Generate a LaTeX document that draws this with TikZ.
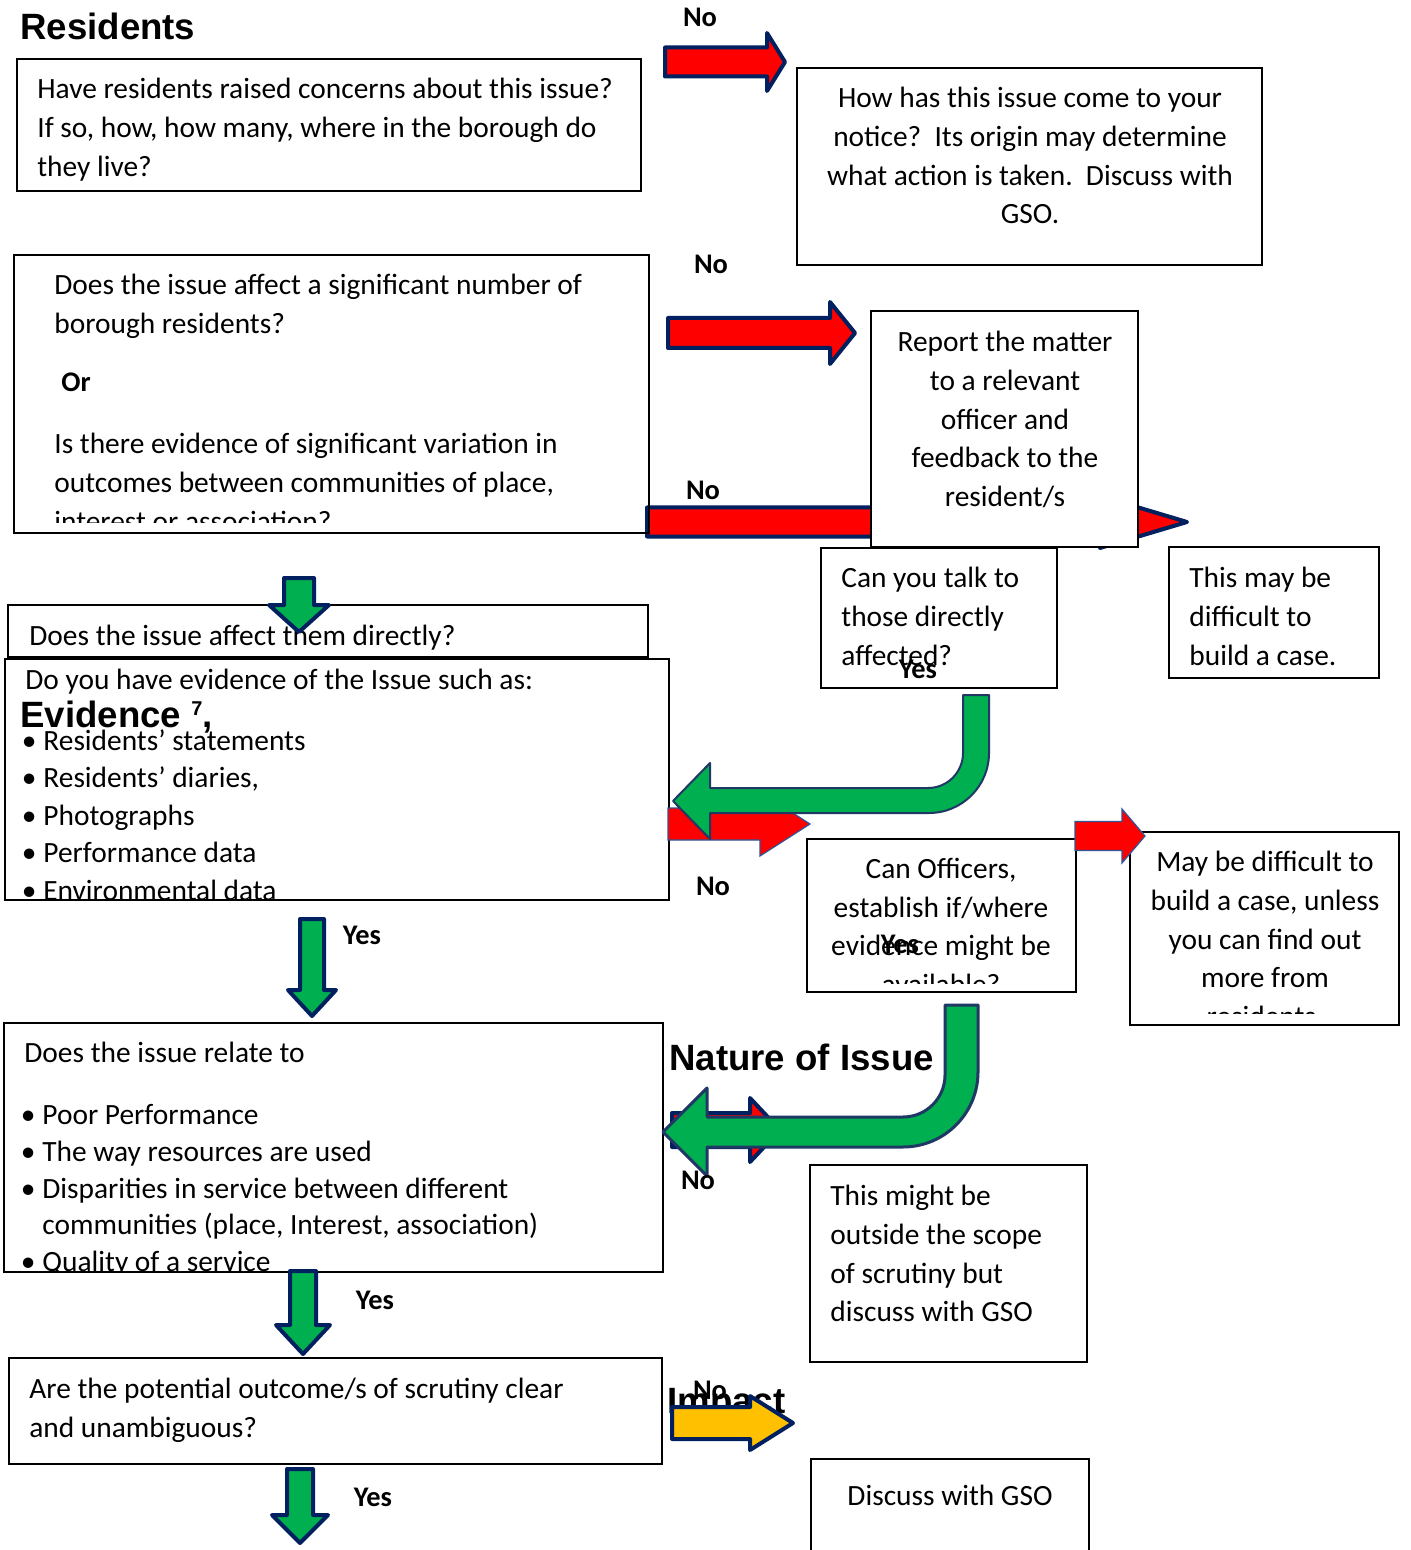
\documentclass[tikz,border=0pt]{standalone}
\usepackage{fontspec}
\setmainfont{Carlito}
\newfontfamily\hdfont{Liberation Sans}
\definecolor{arrred}{HTML}{FF0000}
\definecolor{navy}{HTML}{002060}
\definecolor{grn}{HTML}{00B050}
\definecolor{slate}{HTML}{1F3864}
\definecolor{thinblue}{HTML}{2F5597}
\definecolor{yel}{HTML}{FFC000}
\newcommand\RArrow[7]{% style, x1, x2, yc, shaft half, head base x, head half
  \draw[#1] (#2,#4-#5) -- (#6,#4-#5) -- (#6,#4-#7) -- (#3,#4) -- (#6,#4+#7) -- (#6,#4+#5) -- (#2,#4+#5) -- cycle;}
\newcommand\DArrow[7]{% style, xc, y1, y2, shaft half, head base y, head half
  \draw[#1] (#2-#5,#3) -- (#2+#5,#3) -- (#2+#5,#6) -- (#2+#7,#6) -- (#2,#4) -- (#2-#7,#6) -- (#2-#5,#6) -- cycle;}
\tikzset{
  boxst/.style={draw=black, line width=0.8pt},
  txt/.style={inner sep=0pt, anchor=north west, align=left, font=\fontsize{14.7}{19.3}\selectfont},
  ctxt/.style={inner sep=0pt, anchor=north, align=center, font=\fontsize{14.7}{19.3}\selectfont},
  lbl/.style={inner sep=0pt, anchor=base, font=\bfseries\fontsize{14.2}{15}\selectfont},
  hd/.style={inner sep=0pt, anchor=base west, font=\hdfont\bfseries\fontsize{18.3}{20}\selectfont},
  redthick/.style={fill=arrred, draw=navy, line width=2pt, line join=round},
  redthin/.style={fill=arrred, draw=thinblue, line width=0.6pt, line join=miter},
  yelthick/.style={fill=yel, draw=navy, line width=2pt, line join=round},
  grnthick/.style={fill=grn, draw=navy, line width=2pt, line join=round},
  grnbent/.style={fill=grn, draw=slate, line width=#1, line join=round},
}
\newcommand\bul{\llap{•\hspace{3.5pt}}}
\begin{document}
\begin{tikzpicture}[x=0.5pt, y=-0.5pt]
\clip (0,0) rectangle (1410,1550);
\fill[white] (0,0) rectangle (1410,1550);

% long red arrow under the report box
\RArrow{redthick}{647}{1187}{522}{14.5}{1100}{26}

% boxes
\draw[boxst] (17,59) rectangle (641,191);
\draw[boxst] (797,68) rectangle (1262,265);
\draw[boxst] (14,255) rectangle (649,533);
\draw[boxst, fill=white] (871,311) rectangle (1138,547);
\draw[boxst] (821,548) rectangle (1057,688);
\draw[boxst] (1169,547) rectangle (1379,678);
\draw[boxst] (8,605) rectangle (648,657);
\draw[boxst] (5,659) rectangle (669,900);
\draw[boxst] (807,839) rectangle (1076,992);
\draw[boxst] (1130,832) rectangle (1399,1025);
\draw[boxst] (4,1023) rectangle (663,1272);
\draw[boxst] (810,1165) rectangle (1087,1362);
\draw[boxst] (9,1358) rectangle (662,1464);
\draw[boxst] (811,1459) rectangle (1089,1570);

% headings
\node[hd] (hres) at (20,40) {Residents};
\node[hd] (hnat) at (669,1070) {Nature of Issue};
\node[hd] (himp) at (667,1413) {Impact};

% texts
\node[txt] (t1) at (37,78) {Have residents raised concerns about this issue?\\If so, how, how many, where in the borough do\\they live?};
\node[ctxt] (t2) at (1030,87) {How has this issue come to your\\notice?\ \ Its origin may determine\\what action is taken.\ \ Discuss with\\GSO.};
\node[txt] (t3a) at (54,274) {Does the issue affect a significant number of\\borough residents?};
\node[lbl, anchor=base west] (t3or) at (61,392) {Or};
\begin{scope}
\clip (14,255) rectangle (649,523);
\node[txt] (t3c) at (54,433) {Is there evidence of significant variation in\\outcomes between communities of place,\\interest or association?};
\end{scope}
\node[ctxt] (t4) at (1005,331) {Report the matter\\to a relevant\\officer and\\feedback to the\\resident/s};
\node[txt] (t5) at (841,567) {Can you talk to\\those directly\\affected?};
\node[txt] (t6) at (1189,567) {This may be\\difficult to\\build a case.};
\node[txt] (t7) at (29,625) {Does the issue affect them directly?};
\node[txt] (t8) at (25,669) {Do you have evidence of the Issue such as:};
\node[hd] (hev) at (20,727) {Evidence {\fontsize{10}{10}\selectfont\raisebox{6pt}{7}},};
\begin{scope}
\clip (5,659) rectangle (669,900);
\node[txt, font=\fontsize{14.7}{18.8}\selectfont] (t8b) at (43,729) {\bul Residents’ statements\\\bul Residents’ diaries,\\\bul Photographs\\\bul Performance data\\\bul Environmental data};
\end{scope}
\begin{scope}
\clip (807,839) rectangle (1076,983);
\node[ctxt] (t9) at (941,858) {Can Officers,\\establish if/where\\evidence might be\\available?};
\end{scope}
\begin{scope}
\clip (1130,832) rectangle (1399,1013);
\node[ctxt] (t10) at (1265,851) {May be difficult to\\build a case, unless\\you can find out\\more from\\residents.};
\end{scope}
\node[txt] (t11) at (24,1042) {Does the issue relate to};
\begin{scope}
\clip (4,1023) rectangle (663,1271);
\node[txt, font=\fontsize{14.7}{18.4}\selectfont] (t11b) at (42,1104) {\bul Poor Performance\\\bul The way resources are used\\\bul Disparities in service between different\\communities (place, Interest, association)\\\bul Quality of a service};
\end{scope}
\node[txt] (t12) at (830,1185) {This might be\\outside the scope\\of scrutiny but\\discuss with GSO};
\node[txt] (t13) at (29,1378) {Are the potential outcome/s of scrutiny clear\\and unambiguous?};
\node[inner sep=0pt, anchor=base, font=\fontsize{14.7}{19.3}\selectfont] (t14) at (950,1505) {Discuss with GSO};

% arrows
\RArrow{redthick}{665}{785}{62}{14.5}{767}{29}
\RArrow{redthick}{668}{855}{333}{15}{830}{31}
\RArrow{redthin}{668}{810}{824}{16}{760}{32}
\draw[grnbent=1pt] (963,695) -- (989,695) -- (989,753) .. controls (989,786.1) and (962.1,813) .. (929,813) -- (710,813) -- (710,839) -- (673,801) -- (710,763) -- (710,788) -- (928,788) .. controls (947.3,788) and (963,772.3) .. (963,753) -- cycle;
\RArrow{redthin}{1075}{1145}{836}{14.5}{1122}{27}
\RArrow{redthick}{672}{780}{1130}{17}{750}{32}
\draw[grnbent=1.5pt] (945,1005) -- (978,1005) -- (978,1072) .. controls (978,1113.4) and (944.4,1147) .. (903,1147) -- (707,1147) -- (707,1176) -- (663,1132) -- (707,1088) -- (707,1117) -- (903,1117) .. controls (926.2,1117) and (945,1098.2) .. (945,1075) -- cycle;
\DArrow{grnthick}{299}{578}{632}{15}{605}{30}
\DArrow{grnthick}{312}{919}{1016}{12}{990}{24}
\DArrow{grnthick}{303}{1271}{1354}{13}{1325}{27}
\DArrow{grnthick}{300}{1469}{1543}{13}{1515}{28}

% labels
\node[lbl] (l1) at (700,27) {No};
\node[lbl] (l2) at (711,274) {No};
\node[lbl] (l3) at (703,500) {No};
\node[lbl] (l4) at (918,678) {Yes};
\node[lbl] (l5) at (713,895) {No};
\node[lbl] (l6) at (900,953) {Yes};
\node[lbl] (l7) at (362,944) {Yes};
\node[lbl] (l8) at (698,1189) {No};
\node[lbl] (l9) at (375,1309) {Yes};
\node[lbl] (l10) at (710,1399) {No};
\RArrow{yelthick}{672}{793}{1423}{16}{750}{27}
\node[lbl] (l11) at (373,1506) {Yes};
\end{tikzpicture}
\end{document}
